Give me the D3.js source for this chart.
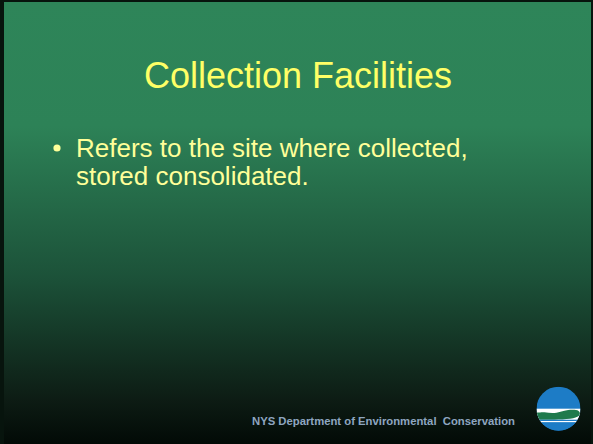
<!DOCTYPE html>
<html>
<head>
<meta charset="utf-8">
<style>
html, body { margin: 0; padding: 0; background: #000; }
svg { display: block; }
text { font-family: "Liberation Sans", Arial, sans-serif; }
</style>
<script src="https://cdnjs.cloudflare.com/ajax/libs/d3/7.8.5/d3.min.js"></script>
</head>
<body>
<svg id="slide" width="593" height="444"></svg>
<script>
var width = 593, height = 444

// slide content
var title = "Collection Facilities"
var bulletLines = ["Refers to the site where collected,", "stored consolidated."]
var footer = "NYS Department of Environmental\u00a0 Conservation"

// background gradient stops (offset, colour)
var bgOffsets = [0, 0.28, 0.62, 0.9, 1]
var bgColors = ["#2e8559", "#2d8257", "#1c5239", "#0d1c14", "#020a06"]

var svg = d3.select("#slide")
var defs = svg.append("defs")

var grad = defs.append("linearGradient")
  .attr("id", "bg")
  .attr("x1", 0).attr("y1", 0).attr("x2", 0).attr("y2", 1)
grad.selectAll("stop")
  .data(bgOffsets)
  .join("stop")
  .attr("offset", function(d) { return d })
  .attr("stop-color", function(d, i) { return bgColors[i] })

svg.append("rect")
  .attr("width", width).attr("height", height)
  .attr("fill", "#07140d")
svg.append("rect")
  .attr("x", 4).attr("y", 2)
  .attr("width", width - 6).attr("height", height - 2)
  .attr("fill", "url(#bg)")

// title
svg.append("text")
  .attr("x", 298).attr("y", 88)
  .attr("text-anchor", "middle")
  .attr("font-size", 36)
  .attr("fill", "#ffff66")
  .text(title)

// bullet
var lineY = d3.scaleLinear().domain([0, 1]).range([157, 185])
svg.append("circle")
  .attr("cx", 57).attr("cy", 148).attr("r", 3.6)
  .attr("fill", "#ffff99")
svg.selectAll("text.bullet")
  .data(bulletLines)
  .join("text")
  .attr("class", "bullet")
  .attr("x", 76)
  .attr("y", function(d, i) { return lineY(i) })
  .attr("font-size", 26)
  .attr("fill", "#ffff99")
  .text(function(d) { return d })

// footer
svg.append("text")
  .attr("x", 515).attr("y", 425)
  .attr("text-anchor", "end")
  .attr("font-size", 11.3)
  .attr("font-weight", "bold")
  .attr("fill", "#8ea6c0")
  .text(footer)

// DEC logo
var cx = 558.5, cy = 408.7, r = 22
defs.append("clipPath").attr("id", "logoClip")
  .append("circle").attr("cx", cx).attr("cy", cy).attr("r", r)
var logo = svg.append("g").attr("clip-path", "url(#logoClip)")
logo.append("rect")
  .attr("x", cx - r).attr("y", cy - r).attr("width", 2 * r).attr("height", 2 * r)
  .attr("fill", "#1d7cc6")
logo.append("rect")
  .attr("x", cx - r).attr("y", cy).attr("width", 2 * r).attr("height", 14)
  .attr("fill", "#ffffff")
var hill = d3.line().curve(d3.curveBasis)
logo.append("path")
  .attr("d", hill([
    [cx - r, cy + 4], [cx - 14, cy + 3], [cx - 6, cy + 5], [cx + 2, cy + 3],
    [cx + 10, cy + 1], [cx + 16, cy + 1], [cx + r, cy + 2],
    [cx + r, cy + 11], [cx - r, cy + 11]
  ]) + "Z")
  .attr("fill", "#1f7a4c")
logo.append("rect")
  .attr("x", cx - r).attr("y", cy + 11).attr("width", 2 * r).attr("height", 1.3)
  .attr("fill", "#1d7cc6")
logo.append("rect")
  .attr("x", cx - r).attr("y", cy + 13.5).attr("width", 2 * r).attr("height", r)
  .attr("fill", "#1d7cc6")
</script>
</body>
</html>
